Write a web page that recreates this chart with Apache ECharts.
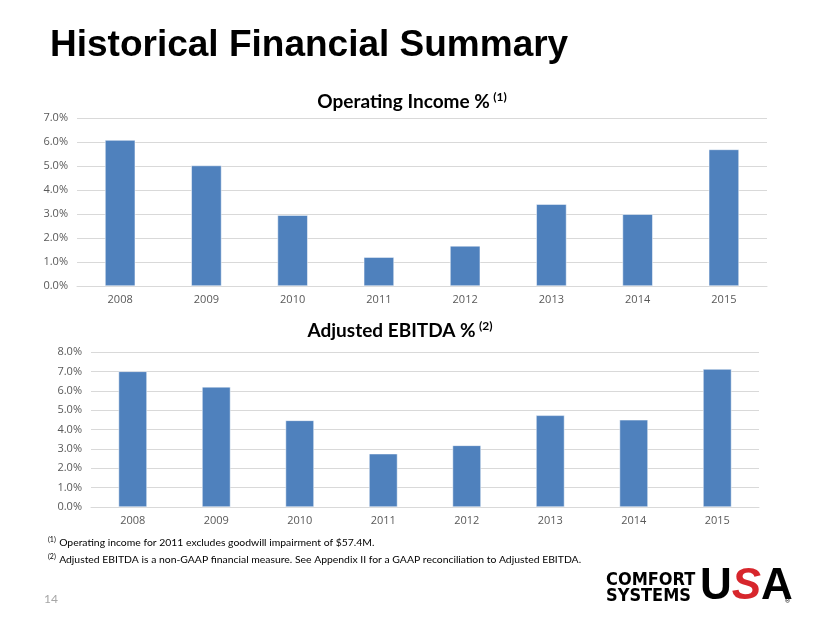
<!DOCTYPE html>
<html>
<head>
<meta charset="utf-8">
<script src="https://cdn.jsdelivr.net/npm/echarts@6/dist/echarts.min.js"></script>
<style>
html,body{margin:0;padding:0;background:#fff;}
#c{width:830px;height:623px;}
</style>
</head>
<body>
<div id="c"></div>
<script>
const years = ['2008','2009','2010','2011','2012','2013','2014','2015'];
const operatingIncome = [6.08, 5.02, 2.95, 1.20, 1.67, 3.41, 2.99, 5.69];
const adjustedEbitda = [7.00, 6.20, 4.47, 2.75, 3.18, 4.73, 4.50, 7.12];
const opTicksMax = 7;
const ebitdaTicksMax = 8;

const chart = echarts.init(document.getElementById('c'));
const barColor = '#4f81bd';
const labelColor = '#595959';
const fmt = v => v.toFixed(1) + '%';

function yAxis(idx, max) {
  return {
    type: 'value', gridIndex: idx, min: 0, max: max, interval: 1,
    axisLabel: {formatter: fmt, color: labelColor, fontSize: 11, fontFamily: 'Open Sans', margin: 9},
    splitLine: {lineStyle: {color: '#d9d9d9'}},
    axisLine: {show: false}, axisTick: {show: false}
  };
}
function xAxis(idx) {
  return {
    type: 'category', gridIndex: idx, data: years,
    axisLabel: {color: labelColor, fontSize: 11, fontFamily: 'Open Sans', margin: 8},
    axisLine: {lineStyle: {color: '#d9d9d9'}},
    axisTick: {show: false}
  };
}

chart.setOption({
  animation: false,
  grid: [
    {left: 77, right: 63, top: 118, height: 168},
    {left: 91, right: 71, top: 352, height: 155}
  ],
  xAxis: [xAxis(0), xAxis(1)],
  yAxis: [yAxis(0, opTicksMax), yAxis(1, ebitdaTicksMax)],
  series: [
    {type: 'bar', xAxisIndex: 0, yAxisIndex: 0, data: operatingIncome, barWidth: '35%',
     itemStyle: {color: barColor, borderColor: '#ffffff', borderWidth: 0.5}},
    {type: 'bar', xAxisIndex: 1, yAxisIndex: 1, data: adjustedEbitda, barWidth: '34%',
     itemStyle: {color: barColor, borderColor: '#ffffff', borderWidth: 0.5}}
  ],
  graphic: [
    {type: 'text', x: 50, y: 46, style: {text: 'Historical Financial Summary', fill: '#000',
      font: 'bold 37px "Liberation Sans", Arial', verticalAlign: 'middle'}},
    {type: 'text', x: 412, y: 102, style: {text: '{t|Operating Income %} {s|(1)}',
      align: 'center', verticalAlign: 'middle',
      rich: {t: {font: 'bold 19px Lato, "Open Sans"', fill: '#000'}, s: {font: 'bold 12px Lato', fill: '#000', padding: [0,0,9,0]}}}},
    {type: 'text', x: 400, y: 331, style: {text: '{t|Adjusted EBITDA %} {s|(2)}',
      align: 'center', verticalAlign: 'middle',
      rich: {t: {font: 'bold 19px Lato, "Open Sans"', fill: '#000'}, s: {font: 'bold 12px Lato', fill: '#000', padding: [0,0,9,0]}}}},
    {type: 'text', x: 48, y: 543, style: {text: '{s|(1)} {t|Operating income for 2011 excludes goodwill impairment of $57.4M.}',
      verticalAlign: 'middle',
      rich: {t: {font: '10.4px Lato', fill: '#000'}, s: {font: '7px Lato', fill: '#000', padding: [0,0,6,0]}}}},
    {type: 'text', x: 48, y: 560, style: {text: '{s|(2)} {t|Adjusted EBITDA is a non-GAAP financial measure. See Appendix II for a GAAP reconciliation to Adjusted EBITDA.}',
      verticalAlign: 'middle',
      rich: {t: {font: '10.4px Lato', fill: '#000'}, s: {font: '7px Lato', fill: '#000', padding: [0,0,6,0]}}}},
    {type: 'text', x: 44, y: 599, style: {text: '14', fill: '#a6a6a6', font: '12px Lato', verticalAlign: 'middle'}},
    {type: 'text', x: 606, y: 580, style: {text: 'COMFORT', fill: '#000', font: 'bold 18px "DejaVu Sans Condensed", "Liberation Sans"', verticalAlign: 'middle'}},
    {type: 'text', x: 606, y: 596, style: {text: 'SYSTEMS', fill: '#000', font: 'bold 18px "DejaVu Sans Condensed", "Liberation Sans"', verticalAlign: 'middle'}},
    {type: 'text', x: 700, y: 587, style: {text: '{u|U}{s|S}{a|A}', verticalAlign: 'middle',
      rich: {u: {font: 'bold 44px "Liberation Sans"', fill: '#000'},
             s: {font: 'bold italic 44px "Liberation Sans"', fill: '#d7262c'},
             a: {font: 'bold 44px "Liberation Sans"', fill: '#000'}}}},
    {type: 'text', x: 785, y: 601, style: {text: '®', fill: '#000', font: '7px "Liberation Sans"', verticalAlign: 'middle'}}
  ]
});
</script>
</body>
</html>
